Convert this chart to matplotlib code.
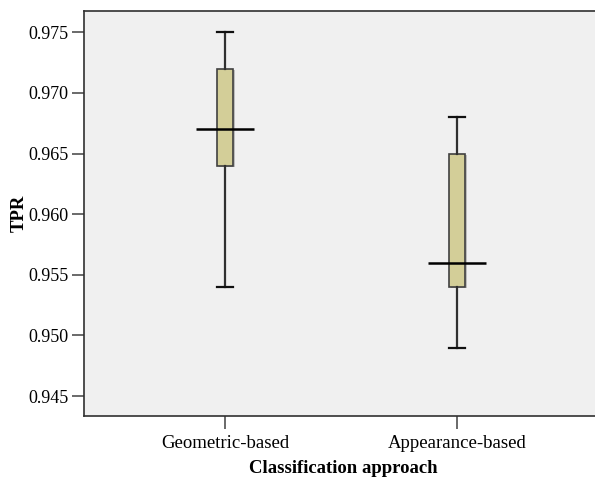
import matplotlib
matplotlib.use("Agg")
import matplotlib.pyplot as plt

plt.rcParams['font.family'] = ['Liberation Serif', 'DejaVu Serif']

categories = ["Geometric-based", "Appearance-based"]
whisker_low = [0.954, 0.949]
q1 = [0.964, 0.954]
median = [0.967, 0.956]
q3 = [0.972, 0.965]
whisker_high = [0.975, 0.968]
yticks = [0.945, 0.950, 0.955, 0.960, 0.965, 0.970, 0.975]

stats = []
for i, name in enumerate(categories):
    stats.append({
        "label": name,
        "whislo": whisker_low[i],
        "q1": q1[i],
        "med": median[i],
        "q3": q3[i],
        "whishi": whisker_high[i],
        "fliers": [],
    })

fig = plt.figure(figsize=(5.95, 4.8), dpi=100)
W, H = 595, 480
ax = fig.add_axes([84 / W, (H - 415.7) / H, (602 - 84) / W, (415.7 - 10.7) / H])
ax.set_facecolor("#f0f0f0")

positions = [1, 2]
# faint shadow on the right of each box
for i, p in enumerate(positions):
    ax.add_patch(plt.Rectangle((p - 0.0345 + 0.008, q1[i] - 0.0001), 0.069, q3[i] - q1[i],
                               facecolor="#bdbdbd", edgecolor="none", zorder=1.5))

ax.bxp(stats, positions=positions, widths=0.069, patch_artist=True,
       showfliers=False, capwidths=0.069,
       boxprops=dict(facecolor="#d3ce98", edgecolor="#404040", linewidth=1.2),
       whiskerprops=dict(color="#303030", linewidth=1.6),
       capprops=dict(color="#101010", linewidth=1.6),
       medianprops=dict(color="none"))

# wide median lines like SPSS
for i, p in enumerate(positions):
    ax.hlines(median[i], p - 0.125, p + 0.125, color="black", linewidth=1.8, zorder=5)

ax.set_xlim(1 - 141 / 232, 2 + 145 / 232)
ax.set_ylim(0.94338, 0.97678)
ax.set_yticks(yticks)
ax.set_yticklabels([f"{v:.3f}" for v in yticks], fontsize=13)
ax.set_xticks(positions)
ax.set_xticklabels(categories, fontsize=13.5)
ax.tick_params(axis="both", length=9, width=1.2, color="#505050")
ax.tick_params(axis="x", pad=5)
ax.tick_params(axis="y", pad=2)

for s in ax.spines.values():
    s.set_color("#303030")
    s.set_linewidth(1.2)

ax.set_ylabel("TPR", fontsize=13.5, fontweight="bold", labelpad=0.5)
ax.set_xlabel("Classification approach", fontsize=13.5, fontweight="bold", labelpad=6)

fig.savefig("out.png", dpi=100)
